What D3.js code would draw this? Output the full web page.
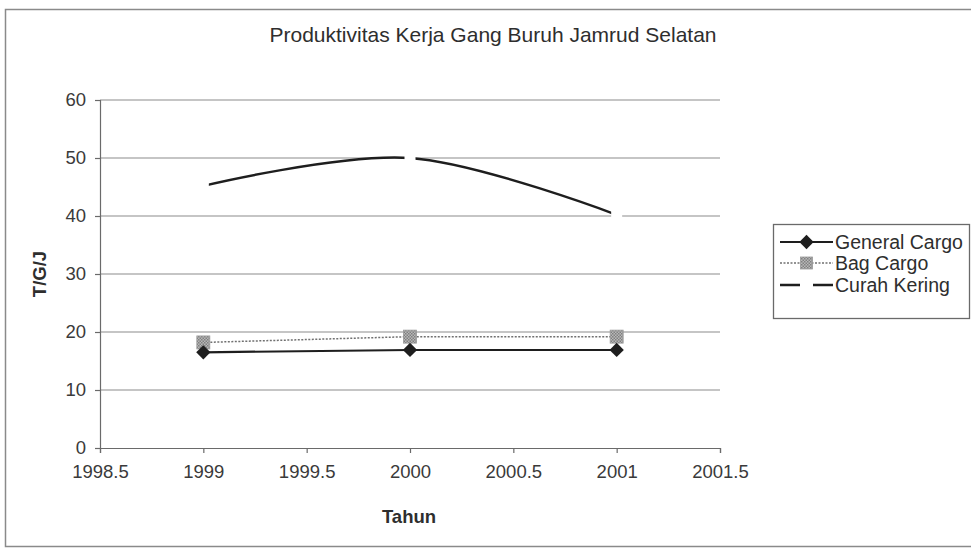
<!DOCTYPE html>
<html>
<head>
<meta charset="utf-8">
<script src="https://cdn.jsdelivr.net/npm/d3@7"></script>
<style>
  html, body { margin: 0; padding: 0; background: #ffffff; }
  svg { display: block; font-family: "Liberation Sans", Arial, sans-serif; }
</style>
</head>
<body>
<svg id="chart" width="971" height="551"></svg>
<script>
// Chart data
const years = [1999, 2000, 2001];
const generalCargo = [16.5, 16.9, 16.9];
const bagCargo = [18.2, 19.2, 19.2];
const curahKering = [45.2, 50, 40.2];
const xTicks = [1998.5, 1999, 1999.5, 2000, 2000.5, 2001, 2001.5];
const yTicks = [0, 10, 20, 30, 40, 50, 60];
const seriesNames = ["General Cargo", "Bag Cargo", "Curah Kering"];
const titleText = "Produktivitas Kerja Gang Buruh Jamrud Selatan";
const xLabel = "Tahun";
const yLabel = "T/G/J";

const svg = d3.select("#chart");

// outer chart frame
svg.append("rect")
  .attr("x", 5.5).attr("y", 9.5).attr("width", 980).attr("height", 537)
  .attr("fill", "#ffffff").attr("stroke", "#8a8a8a").attr("stroke-width", 1.5);

const plot = { left: 100, right: 720, top: 100, bottom: 448 };

const x = d3.scaleLinear().domain([1998.5, 2001.5]).range([plot.left, plot.right]);
const y = d3.scaleLinear().domain([0, 60]).range([plot.bottom, plot.top]);

// horizontal gridlines
svg.append("g")
  .selectAll("line")
  .data(yTicks.filter(d => d > 0))
  .join("line")
  .attr("x1", plot.left).attr("x2", plot.right)
  .attr("y1", d => y(d)).attr("y2", d => y(d))
  .attr("stroke", "#8c8c8c").attr("stroke-width", 1.2);

// y axis
const yAxis = svg.append("g")
  .attr("transform", `translate(${plot.left},0)`)
  .call(d3.axisLeft(y).tickValues(yTicks).tickSize(5).tickPadding(9).tickFormat(d3.format("d")));
yAxis.select(".domain").attr("stroke", "#6a6a6a").attr("stroke-width", 1.2);
yAxis.selectAll(".tick line").attr("stroke", "#6a6a6a").attr("stroke-width", 1.2);
yAxis.selectAll(".tick text")
  .attr("font-size", 18.5).attr("fill", "#3a3a3a")
  .attr("font-family", "Liberation Sans, Arial, sans-serif");

// x axis
const xAxis = svg.append("g")
  .attr("transform", `translate(0,${plot.bottom})`)
  .call(d3.axisBottom(x).tickValues(xTicks).tickSize(5).tickPadding(12).tickFormat(d => String(d)));
xAxis.select(".domain").attr("stroke", "#6a6a6a").attr("stroke-width", 1.2);
xAxis.selectAll(".tick line").attr("stroke", "#6a6a6a").attr("stroke-width", 1.2);
xAxis.selectAll(".tick text")
  .attr("font-size", 18.5).attr("fill", "#3a3a3a")
  .attr("font-family", "Liberation Sans, Arial, sans-serif");

// titles
svg.append("text")
  .attr("x", 493).attr("y", 42)
  .attr("text-anchor", "middle")
  .attr("font-size", 21).attr("fill", "#2e2e2e")
  .text(titleText);

svg.append("text")
  .attr("x", 409).attr("y", 523)
  .attr("text-anchor", "middle")
  .attr("font-size", 18.5).attr("font-weight", "bold").attr("fill", "#2e2e2e")
  .text(xLabel);

svg.append("text")
  .attr("transform", `translate(46,274) rotate(-90)`)
  .attr("text-anchor", "middle")
  .attr("font-size", 18.5).attr("font-weight", "bold").attr("fill", "#2e2e2e")
  .text(yLabel);

// checkered fill for the Bag Cargo marker
const defs = svg.append("defs");
const pat = defs.append("pattern")
  .attr("id", "checker").attr("patternUnits", "userSpaceOnUse")
  .attr("width", 3).attr("height", 3);
pat.append("rect").attr("width", 3).attr("height", 3).attr("fill", "#b8b8b8");
pat.append("rect").attr("width", 1.5).attr("height", 1.5).attr("fill", "#808080");
pat.append("rect").attr("x", 1.5).attr("y", 1.5).attr("width", 1.5).attr("height", 1.5).attr("fill", "#808080");

const straight = d3.line().x(d => x(d[0])).y(d => y(d[1]));
const smooth = d3.line().x(d => x(d[0])).y(d => y(d[1])).curve(d3.curveCatmullRom.alpha(0));

const pts = vals => years.map((yr, i) => [yr, vals[i]]);

// Curah Kering: smoothed line, white markers
svg.append("path")
  .attr("d", smooth(pts(curahKering)))
  .attr("fill", "none").attr("stroke", "#1e1e1e").attr("stroke-width", 2.4);
svg.append("g").selectAll("rect")
  .data(pts(curahKering))
  .join("rect")
  .attr("x", d => x(d[0]) - 5.5).attr("y", d => y(d[1]) - 5.5)
  .attr("width", 11).attr("height", 11)
  .attr("fill", "#ffffff");

// Bag Cargo: dotted grey line with checkered squares
svg.append("path")
  .attr("d", straight(pts(bagCargo)))
  .attr("fill", "none").attr("stroke", "#707070").attr("stroke-width", 1.5)
  .attr("stroke-dasharray", "2,1.5");
svg.append("g").selectAll("rect")
  .data(pts(bagCargo))
  .join("rect")
  .attr("x", d => x(d[0]) - 6.5).attr("y", d => y(d[1]) - 6.5)
  .attr("width", 13).attr("height", 13)
  .attr("fill", "url(#checker)").attr("stroke", "#9a9a9a").attr("stroke-width", 0.8);

// General Cargo: solid black line with diamonds
svg.append("path")
  .attr("d", straight(pts(generalCargo)))
  .attr("fill", "none").attr("stroke", "#1e1e1e").attr("stroke-width", 2.2);
const diamond = d3.symbol().type(d3.symbolDiamond2).size(130);
svg.append("g").selectAll("path")
  .data(pts(generalCargo))
  .join("path")
  .attr("transform", d => `translate(${x(d[0])},${y(d[1])})`)
  .attr("d", diamond)
  .attr("fill", "#1e1e1e");

// legend
const lg = svg.append("g");
lg.append("rect")
  .attr("x", 773.5).attr("y", 224.5).attr("width", 196).attr("height", 94)
  .attr("fill", "#ffffff").attr("stroke", "#6a6a6a").attr("stroke-width", 1.3);

const legendY = [242, 263, 285];
const lx1 = 780, lx2 = 833, lmid = (lx1 + lx2) / 2;

// General Cargo entry
lg.append("line").attr("x1", lx1).attr("x2", lx2).attr("y1", legendY[0]).attr("y2", legendY[0])
  .attr("stroke", "#1e1e1e").attr("stroke-width", 2.2);
lg.append("path").attr("transform", `translate(${lmid},${legendY[0]})`).attr("d", diamond).attr("fill", "#1e1e1e");

// Bag Cargo entry
lg.append("line").attr("x1", lx1).attr("x2", lx2).attr("y1", legendY[1]).attr("y2", legendY[1])
  .attr("stroke", "#707070").attr("stroke-width", 1.5).attr("stroke-dasharray", "2,1.5");
lg.append("rect").attr("x", lmid - 6).attr("y", legendY[1] - 6).attr("width", 12).attr("height", 12)
  .attr("fill", "url(#checker)").attr("stroke", "#9a9a9a").attr("stroke-width", 0.8);

// Curah Kering entry
lg.append("line").attr("x1", lx1).attr("x2", lx2).attr("y1", legendY[2]).attr("y2", legendY[2])
  .attr("stroke", "#1e1e1e").attr("stroke-width", 2.4);
lg.append("rect").attr("x", lmid - 6.5).attr("y", legendY[2] - 6.5).attr("width", 13).attr("height", 13)
  .attr("fill", "#ffffff");

lg.selectAll("text.lbl")
  .data(seriesNames)
  .join("text")
  .attr("class", "lbl")
  .attr("x", 835).attr("y", (d, i) => legendY[i] + 7)
  .attr("font-size", 19.5).attr("fill", "#2e2e2e")
  .text(d => d);
</script>
</body>
</html>
